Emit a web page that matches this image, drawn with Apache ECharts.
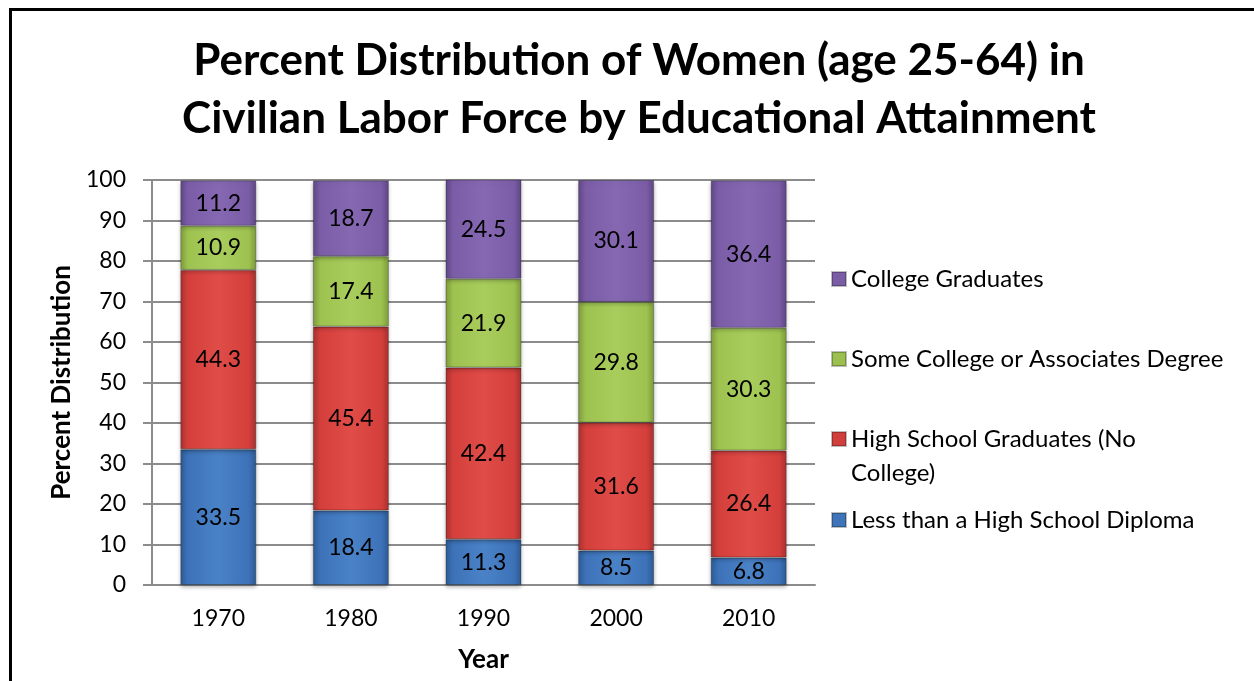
<!DOCTYPE html>
<html>
<head>
<meta charset="utf-8">
<script src="https://cdn.jsdelivr.net/npm/echarts@6/dist/echarts.min.js"></script>
<style>html,body{margin:0;padding:0;background:#fff;}#c{width:1254px;height:681px;}</style>
</head>
<body>
<div id="c"></div>
<script>
const years = ['1970', '1980', '1990', '2000', '2010'];
const lessThanHS = [33.5, 18.4, 11.3, 8.5, 6.8];
const hsGrads = [44.3, 45.4, 42.4, 31.6, 26.4];
const someCollege = [10.9, 17.4, 21.9, 29.8, 30.3];
const collegeGrads = [11.2, 18.7, 24.5, 30.1, 36.4];
const seriesNames = ['Less than a High School Diploma', 'High School Graduates (No College)', 'Some College or Associates Degree', 'College Graduates'];

const FONT = 'Lato';
function grad(edge, base, light) {
  return new echarts.graphic.LinearGradient(0, 0, 1, 0, [
    {offset: 0, color: edge}, {offset: 0.1, color: base}, {offset: 0.5, color: light},
    {offset: 0.9, color: base}, {offset: 1, color: edge}
  ]);
}
const styles = [
  {c: '#3f74b8', s: grad('#2d5a94', '#3d72b8', '#4a82c8')},
  {c: '#d03f3c', s: grad('#a83230', '#d43f3c', '#e04c48')},
  {c: '#9bc04f', s: grad('#7d9c3c', '#9dc250', '#a8cd5c')},
  {c: '#7b5da6', s: grad('#5f4784', '#7b5ca7', '#8668b2')}
];
const datas = [lessThanHS, hsGrads, someCollege, collegeGrads];

const series = datas.map((d, i) => ({
  name: seriesNames[i],
  type: 'bar',
  stack: 'total',
  barWidth: 76,
  data: d,
  itemStyle: {color: styles[i].s, borderColor: 'rgba(0,0,0,0.25)', borderWidth: 1,
    shadowColor: 'rgba(0,0,0,0.3)', shadowBlur: 4, shadowOffsetY: 2},
  label: {show: true, position: 'inside', color: '#000', fontFamily: FONT, fontSize: 23},
  emphasis: {disabled: true}
}));

function legendAt(name, top, extra) {
  return Object.assign({
    data: [{name: name, itemStyle: {color: styles[seriesNames.indexOf(name)].c}}],
    left: 831, top: top, orient: 'vertical', icon: 'rect', itemWidth: 14, itemHeight: 14, itemGap: 0,
    padding: 0,
    selectedMode: false,
    textStyle: {fontFamily: FONT, fontSize: 24, color: '#000', lineHeight: 24}
  }, extra || {});
}

const chart = echarts.init(document.getElementById('c'), null, {renderer: 'canvas'});
chart.setOption({
  backgroundColor: '#fff',
  animation: false,
  title: {
    text: 'Percent Distribution of Women (age 25-64) in\nCivilian Labor Force by Educational Attainment',
    left: 634, top: 27, textAlign: 'center',
    textStyle: {fontFamily: FONT, fontWeight: 'bold', fontSize: 44, lineHeight: 58, color: '#000'}
  },
  graphic: [{type: 'rect', shape: {x: 10.5, y: 9.5, width: 1400, height: 800},
    style: {fill: 'none', stroke: '#000', lineWidth: 3}, silent: true, z: 100}],
  legend: [
    legendAt('College Graduates', 267),
    legendAt('Some College or Associates Degree', 347),
    legendAt('High School Graduates (No College)', 388, {
      formatter: () => '\nHigh School Graduates (No\nCollege)',
      textStyle: {fontFamily: FONT, fontSize: 24, color: '#000', lineHeight: 34}
    }),
    legendAt('Less than a High School Diploma', 508)
  ],
  grid: {left: 152, right: 439, top: 180, bottom: 96},
  xAxis: {
    type: 'category', data: years,
    name: 'Year', nameLocation: 'middle', nameGap: 62,
    nameTextStyle: {fontFamily: FONT, fontWeight: 'bold', fontSize: 26, color: '#000'},
    axisLine: {lineStyle: {color: '#8c8c8c', width: 2}},
    axisTick: {show: false},
    axisLabel: {fontFamily: FONT, fontSize: 23, color: '#000', margin: 22}
  },
  yAxis: {
    type: 'value', min: 0, max: 100, interval: 10,
    name: 'Percent Distribution', nameLocation: 'middle', nameGap: 74, nameRotate: 90,
    nameTextStyle: {fontFamily: FONT, fontWeight: 'bold', fontSize: 26, color: '#000'},
    axisLine: {show: true, lineStyle: {color: '#8c8c8c', width: 2}},
    axisTick: {show: true, length: 9, lineStyle: {color: '#8c8c8c', width: 2}},
    splitLine: {lineStyle: {color: '#8c8c8c', width: 2}},
    axisLabel: {fontFamily: FONT, fontSize: 23, color: '#000', margin: 26}
  },
  series: series
});
</script>
</body>
</html>
